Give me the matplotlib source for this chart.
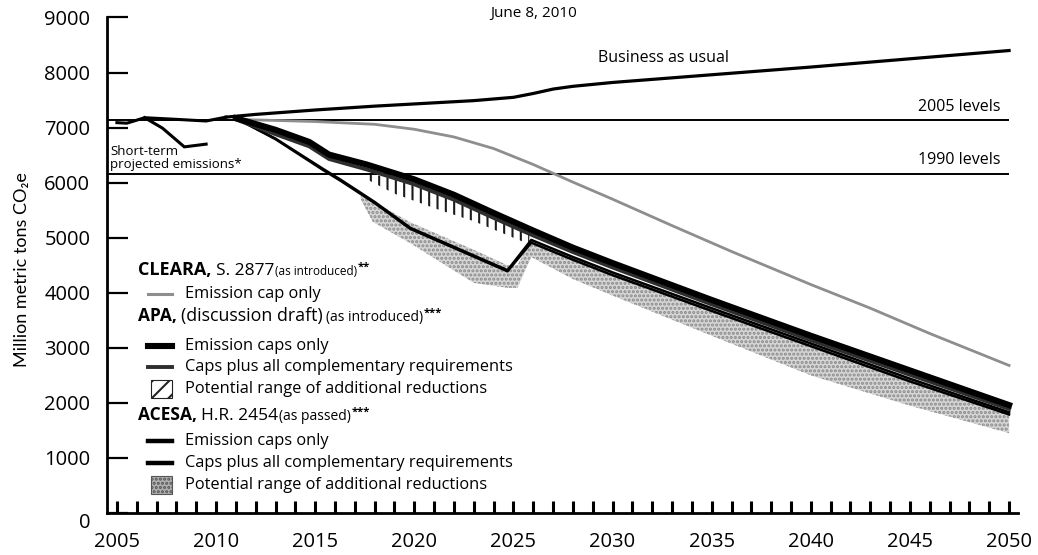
import matplotlib
matplotlib.use("Agg")
import matplotlib.pyplot as plt
from matplotlib.lines import Line2D
from matplotlib.patches import Rectangle

plt.rcParams['font.family'] = ['Open Sans', 'DejaVu Sans']
plt.rcParams['hatch.linewidth'] = 1.5

W, H = 1038, 555

# --- data (million metric tons CO2e) ---
hist_years = [2005, 2005.5, 2006.4, 2008, 2009.5, 2010.5]
hist_vals = [7090, 7080, 7180, 7150, 7120, 7190]

short_years = [2006.4, 2007.3, 2008.4, 2009.5]
short_vals = [7180, 6990, 6650, 6700]

bau_years = [2010.5, 2012, 2015, 2018, 2020, 2023, 2025, 2026, 2027, 2028, 2030, 2035, 2040, 2045, 2050]
bau_vals = [7190, 7240, 7320, 7390, 7430, 7490, 7550, 7620, 7700, 7750, 7820, 7960, 8100, 8250, 8400]

level_2005 = 7130
level_1990 = 6160

cleara_years = [2011, 2015, 2018, 2020, 2022, 2024, 2026, 2027, 2028, 2030, 2033, 2036, 2040, 2043, 2046, 2050]
cleara_vals = [7150, 7110, 7060, 6970, 6830, 6620, 6330, 6170, 6010, 5700, 5220, 4750, 4150, 3720, 3260, 2680]

apa_years = [2011, 2013, 2014.7, 2015.7, 2017.6, 2020, 2022, 2024, 2026, 2028, 2030, 2035, 2040, 2045, 2050]
apa_caps = [7170, 6960, 6740, 6510, 6330, 6060, 5780, 5450, 5130, 4820, 4540, 3870, 3220, 2590, 1960]
apa_comp = [7150, 6880, 6660, 6430, 6240, 5970, 5690, 5360, 5040, 4740, 4460, 3790, 3140, 2510, 1890]

apa_range_years = [2017.5, 2019, 2021.3, 2023, 2025.8]
apa_range_hi = [6190, 6060, 5790, 5550, 5080]
apa_range_lo = [6080, 5800, 5500, 5300, 4880]

acesa_years = [2011, 2013, 2015.4, 2016.3, 2018, 2019.8, 2024.7, 2025.9, 2028, 2030, 2035, 2040, 2045, 2050]
acesa_caps = [7170, 6800, 6250, 6050, 5650, 5180, 4410, 4960, 4650, 4370, 3720, 3080, 2440, 1830]
acesa_comp = [7170, 6790, 6230, 6030, 5630, 5160, 4390, 4910, 4600, 4320, 3670, 3030, 2390, 1790]

acesa_range_years = [2017.3, 2017.9, 2019.8, 2023, 2024.7, 2025.2, 2025.9, 2028, 2030, 2035, 2040, 2045, 2050]
acesa_range_hi = [5760, 5660, 5280, 4780, 4500, 4500, 4960, 4650, 4370, 3720, 3080, 2440, 1830]
acesa_range_lo = [5700, 5290, 4900, 4180, 4090, 4090, 4650, 4250, 3950, 3220, 2500, 1950, 1450]

y_ticks = [0, 1000, 2000, 3000, 4000, 5000, 6000, 7000, 8000, 9000]
x_ticks = [2005, 2010, 2015, 2020, 2025, 2030, 2035, 2040, 2045, 2050]
year_ticks = list(range(2005, 2051))


def fx(x):
    return x / W


def fy(y):
    return 1 - y / H


fig = plt.figure(figsize=(W / 100, H / 100), dpi=100)
ax = fig.add_axes([fx(107), fy(513), (1018 - 107) / W, (513 - 17.5) / H])
ax.set_xlim(2004.5, 2050.45)
ax.set_ylim(0, 9000)

# ranges
ax.fill_between(acesa_range_years, acesa_range_lo, acesa_range_hi,
                facecolor='#d6d6d6', edgecolor='#8a8a8a', hatch='....', linewidth=0, zorder=1)
ax.fill_between(apa_range_years, apa_range_lo, apa_range_hi,
                facecolor='white', edgecolor='#1a1a1a', hatch='||', linewidth=0, zorder=1)

# reference levels
ax.hlines([level_2005, level_1990], 2004.5, 2050, color='black', lw=1.4, zorder=2)

# emissions lines
ax.plot(hist_years, hist_vals, color='black', lw=2.2, zorder=3)
ax.plot(short_years, short_vals, color='black', lw=2.2, zorder=3)
ax.plot(bau_years, bau_vals, color='black', lw=2.3, zorder=3)
ax.plot(cleara_years, cleara_vals, color='#8e8e8e', lw=2.0, zorder=3)
ax.plot(acesa_years, acesa_comp, color='black', lw=1.8, zorder=4)
ax.plot(acesa_years, acesa_caps, color='black', lw=1.8, zorder=4)
ax.plot(apa_years, apa_comp, color='#2e2e2e', lw=2.8, zorder=5)
ax.plot(apa_years, apa_caps, color='black', lw=4.4, zorder=6)

# axes styling
for s in ['top', 'right']:
    ax.spines[s].set_visible(False)
for s in ['left', 'bottom']:
    ax.spines[s].set_linewidth(2.0)
ax.set_yticks(y_ticks)
ax.set_xticks(x_ticks)
ax.tick_params(axis='y', left=True, direction='in', length=15, width=1.6, pad=12, labelsize=14.5)
ax.tick_params(axis='x', bottom=True, direction='in', length=0, pad=14, labelsize=14.5)
ax.yaxis.get_major_ticks()[0].label1.set_va('top')
# yearly tick marks along the bottom axis
ax.vlines(year_ticks, 0, 12 / (513 - 17.5), transform=ax.get_xaxis_transform(),
          color='black', lw=2.2, zorder=8, clip_on=False)

fig.text(fx(22), fy(270), 'Million metric tons CO\u2082e', rotation=90,
         ha='center', va='center', fontsize=13, family=['Lato', 'DejaVu Sans'])

# annotations
fig.text(fx(534), fy(14), 'June 8, 2010', ha='center', va='center', fontsize=11)
fig.text(fx(664), fy(58), 'Business as usual', ha='center', va='center', fontsize=11.5)
fig.text(fx(1000), fy(107), '2005 levels', ha='right', va='center', fontsize=11.5)
fig.text(fx(1000), fy(160), '1990 levels', ha='right', va='center', fontsize=11.5)
fig.text(fx(110), fy(158), 'Short-term\nprojected emissions*', ha='left', va='center',
         fontsize=9.5, linespacing=1.0)

# legend block
renderer = fig.canvas.get_renderer()


def header(y, parts):
    x = 138
    for txt, size, weight, gap, rise in parts:
        x += gap
        t = fig.text(fx(x), fy(y + 5 - rise), txt, fontsize=size, fontweight=weight,
                     va='baseline', ha='left')
        x += t.get_window_extent(renderer).width


def item(y, label):
    fig.text(fx(185), fy(y), label, fontsize=11.8, va='center', ha='left')


def sample_line(y, color, lw):
    fig.add_artist(Line2D([fx(148), fx(172)], [fy(y), fy(y)], color=color, lw=lw,
                          transform=fig.transFigure))


def sample_box(y, face, edge, hatch):
    fig.add_artist(Rectangle((fx(151), fy(y + 9)), 21 / W, 18 / H, facecolor=face, edgecolor=edge,
                             hatch=hatch, lw=0.8, transform=fig.transFigure))


header(270, [('CLEARA,', 13, 'bold', 0, 0), ('S. 2877', 12.5, 'normal', 4, 0),
             ('(as introduced)', 8.5, 'normal', 1, 0), ('**', 8, 'bold', 1, 5)])
sample_line(294, '#8e8e8e', 2.2)
item(294, 'Emission cap only')

header(316, [('APA,', 12.5, 'bold', 0, 0), ('(discussion draft)', 12.8, 'normal', 4, 0),
             ('(as introduced)', 10, 'normal', 3, 0), ('***', 8, 'bold', 1, 5)])
sample_line(346, 'black', 4.4)
item(346, 'Emission caps only')
sample_line(367, '#2e2e2e', 2.8)
item(367, 'Caps plus all complementary requirements')
sample_box(389, 'white', '#222222', '//')
item(389, 'Potential range of additional reductions')

header(415, [('ACESA,', 12.5, 'bold', 0, 0), ('H.R. 2454', 12.5, 'normal', 4, 0),
             ('(as passed)', 10, 'normal', 1, 0), ('***', 8, 'bold', 1, 5)])
sample_line(441, 'black', 3.2)
item(441, 'Emission caps only')
sample_line(463, 'black', 3.2)
item(463, 'Caps plus all complementary requirements')
sample_box(485, '#b0b0b0', '#555555', '....')
item(485, 'Potential range of additional reductions')

fig.savefig('out.png', dpi=100)
